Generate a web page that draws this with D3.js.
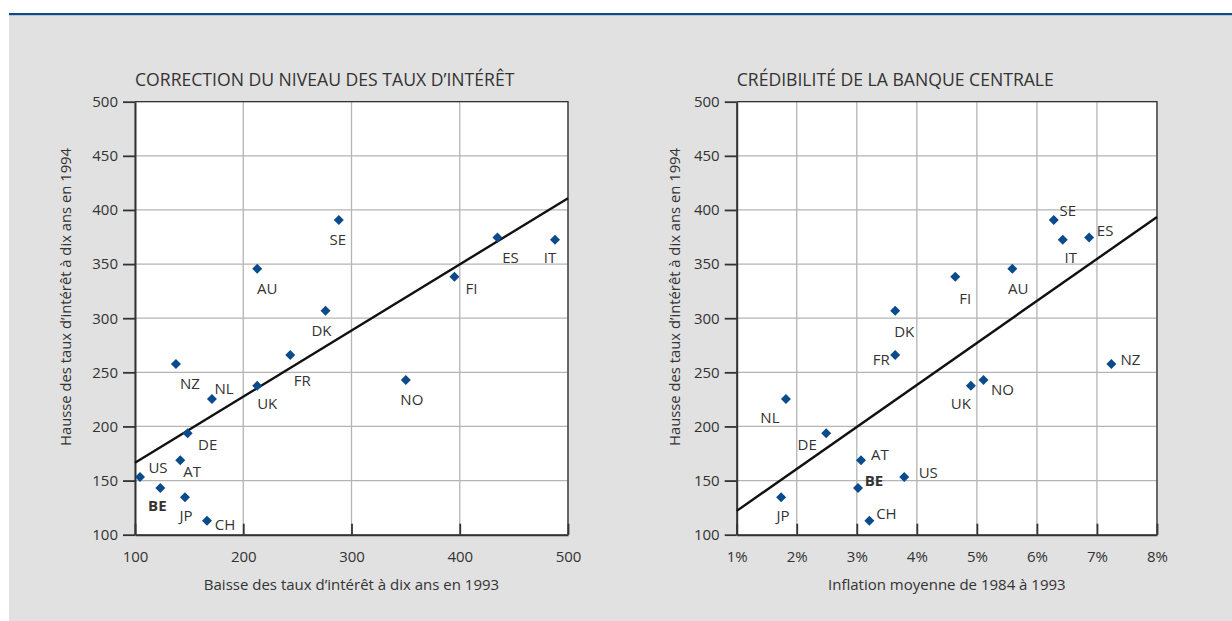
<!DOCTYPE html>
<html>
<head>
<meta charset="utf-8">
<title>Taux d'intérêt à dix ans</title>
<script src="https://cdn.jsdelivr.net/npm/d3@7/dist/d3.min.js"></script>
<style>
    body { margin: 0; background: #fff; font-family: "Open Sans", sans-serif; }
    svg text { fill: #333; }
</style>
</head>
<body>
<script>
// Pays (codes)
var countries = ["AT", "AU", "BE", "CH", "DE", "DK", "ES", "FI", "FR", "IT", "JP", "NL", "NO", "NZ", "SE", "UK", "US"];
// Hausse des taux d'intérêt à dix ans en 1994 (points de base)
var hausse1994 = [168.7, 345.7, 143.1, 112.9, 193.7, 306.9, 374.5, 338.3, 266.0, 372.4, 134.5, 225.4, 242.9, 257.7, 390.8, 237.6, 153.3];
// Baisse des taux d'intérêt à dix ans en 1993 (points de base)
var baisse1993 = [141.8, 212.9, 123.4, 166.5, 148.6, 276.0, 434.8, 395.1, 243.4, 488.0, 146.2, 171.1, 350.2, 137.8, 288.3, 212.9, 104.6];
// Inflation moyenne de 1984 à 1993 (%)
var inflation = [3.07, 5.59, 3.02, 3.21, 2.49, 3.64, 6.87, 4.64, 3.64, 6.43, 1.74, 1.82, 5.11, 7.24, 6.28, 4.90, 3.79];
// Droites de régression (extrémités)
var fitBaisse = [[100, 166.5], [500, 410.8]];
var fitInflation = [[1, 122.0], [8, 393.5]];
// Graduations
var yTicks = [100, 150, 200, 250, 300, 350, 400, 450, 500];
var xTicksBaisse = [100, 200, 300, 400, 500];
var xTicksInflation = [1, 2, 3, 4, 5, 6, 7, 8];

var width = 1232,
    height = 621;
var blue = "#0b4a8b";

// label placement around each marker (dx, dy of the label centre)
var labelsLeft = {
    AT: [12, 11], AU: [10, 19], BE: [-3, 17], CH: [18, 3], DE: [20, 11], DK: [-4, 19],
    ES: [13, 19], FI: [17, 11], FR: [12, 25], IT: [-5, 17], JP: [1, 18], NL: [12, -11],
    NO: [6, 19], NZ: [14, 19], SE: [-1, 19], UK: [10, 17], US: [18, -10]
};
var labelsRight = {
    AT: [19, -6], AU: [6, 19], BE: [16, -8], CH: [17, -8], DE: [-19, 11], DK: [9, 20],
    ES: [16, -8], FI: [10, 21], FR: [-14, 4], IT: [8, 17], JP: [2, 18], NL: [-16, 18],
    NO: [19, 9], NZ: [19, -5], SE: [14, -10], UK: [-10, 17], US: [24, -5]
};

var svg = d3.select("body").append("svg")
    .attr("width", width)
    .attr("height", height);

// Background panel with the blue rule on top
svg.append("rect")
    .attr("x", 9).attr("y", 14)
    .attr("width", width - 9).attr("height", height - 14)
    .attr("fill", "#e1e1e1");
svg.append("rect")
    .attr("x", 9).attr("y", 13)
    .attr("width", width - 9).attr("height", 2.2)
    .attr("fill", blue);

var drawScatter = function(opt) {
    var x = d3.scaleLinear().domain(opt.xDomain).range([opt.left, opt.right]);
    var y = d3.scaleLinear().domain([100, 500]).range([534.7, 101.7]);
    var g = svg.append("g");

    // Plot area
    g.append("rect")
        .attr("x", opt.left).attr("y", y(500))
        .attr("width", opt.right - opt.left).attr("height", y(100) - y(500))
        .attr("fill", "#fff");

    // Grid
    g.selectAll(".gx").data(opt.xTicks).enter().append("line")
        .attr("x1", function(d) { return x(d); }).attr("x2", function(d) { return x(d); })
        .attr("y1", y(100)).attr("y2", y(500))
        .attr("stroke", "#b4b4b4").attr("stroke-width", 1.3);
    g.selectAll(".gy").data(yTicks).enter().append("line")
        .attr("x1", opt.left).attr("x2", opt.right)
        .attr("y1", function(d) { return y(d); }).attr("y2", function(d) { return y(d); })
        .attr("stroke", "#b4b4b4").attr("stroke-width", 1.3);

    // Frame top and right
    g.append("path")
        .attr("d", "M" + opt.left + "," + y(500) + "H" + opt.right + "V" + y(100))
        .attr("fill", "none").attr("stroke", "#333").attr("stroke-width", 1.3);

    // Axes
    var yAxis = g.append("g")
        .attr("transform", "translate(" + opt.left + ",0)")
        .call(d3.axisLeft(y).tickValues(yTicks).tickSize(12).tickPadding(5).tickSizeOuter(0));
    var xAxis = g.append("g")
        .attr("transform", "translate(0," + y(100) + ")")
        .call(d3.axisBottom(x).tickValues(opt.xTicks).tickSize(-11).tickPadding(17).tickSizeOuter(0)
            .tickFormat(opt.format));
    [yAxis, xAxis].forEach(function(a) {
        a.select(".domain").attr("stroke", "#333").attr("stroke-width", 2);
        a.selectAll(".tick line").attr("stroke", "#333").attr("stroke-width", 1.8);
        a.selectAll(".tick text").attr("font-size", 15).attr("font-family", "Open Sans").attr("fill", "#333");
    });

    // Regression line
    g.append("line")
        .attr("x1", x(opt.fit[0][0])).attr("y1", y(opt.fit[0][1]))
        .attr("x2", x(opt.fit[1][0])).attr("y2", y(opt.fit[1][1]))
        .attr("stroke", "#111").attr("stroke-width", 2.4);

    // Markers
    g.selectAll(".pt").data(countries).enter().append("path")
        .attr("d", d3.symbol().type(d3.symbolSquare).size(50))
        .attr("fill", blue)
        .attr("transform", function(d, i) {
            return "translate(" + x(opt.xValues[i]) + "," + y(hausse1994[i]) + ") rotate(45)";
        });

    // Country labels
    g.selectAll(".lbl").data(countries).enter().append("text")
        .attr("x", function(d, i) { return x(opt.xValues[i]) + opt.labels[d][0]; })
        .attr("y", function(d, i) { return y(hausse1994[i]) + opt.labels[d][1]; })
        .attr("text-anchor", "middle")
        .attr("dominant-baseline", "central")
        .attr("font-size", 15)
        .attr("font-weight", function(d) { return d === "BE" ? "bold" : "normal"; })
        .text(function(d) { return d; });

    // Titles
    g.append("text")
        .attr("x", opt.left).attr("y", 86)
        .attr("font-size", 17.6).attr("fill", "#222")
        .text(opt.title);
    g.append("text")
        .attr("x", (opt.left + opt.right) / 2).attr("y", 590)
        .attr("text-anchor", "middle").attr("font-size", 15)
        .text(opt.xLabel);
    g.append("text")
        .attr("transform", "translate(" + (opt.left - opt.yLabelOffset) + ",297) rotate(-90)")
        .attr("text-anchor", "middle").attr("dominant-baseline", "central")
        .attr("font-size", 14.8)
        .text("Hausse des taux d\u2019intérêt à dix ans en 1994");
};

drawScatter({
    left: 135, right: 568,
    xDomain: [100, 500], xTicks: xTicksBaisse, xValues: baisse1993,
    format: d3.format("d"), fit: fitBaisse, labels: labelsLeft,
    title: "CORRECTION DU NIVEAU DES TAUX D\u2019INTÉRÊT",
    xLabel: "Baisse des taux d\u2019intérêt à dix ans en 1993",
    yLabelOffset: 70
});

drawScatter({
    left: 736.7, right: 1157,
    xDomain: [1, 8], xTicks: xTicksInflation, xValues: inflation,
    format: function(d) { return d + "%"; }, fit: fitInflation, labels: labelsRight,
    title: "CRÉDIBILITÉ DE LA BANQUE CENTRALE",
    xLabel: "Inflation moyenne de 1984 à 1993",
    yLabelOffset: 63
});
</script>
</body>
</html>
